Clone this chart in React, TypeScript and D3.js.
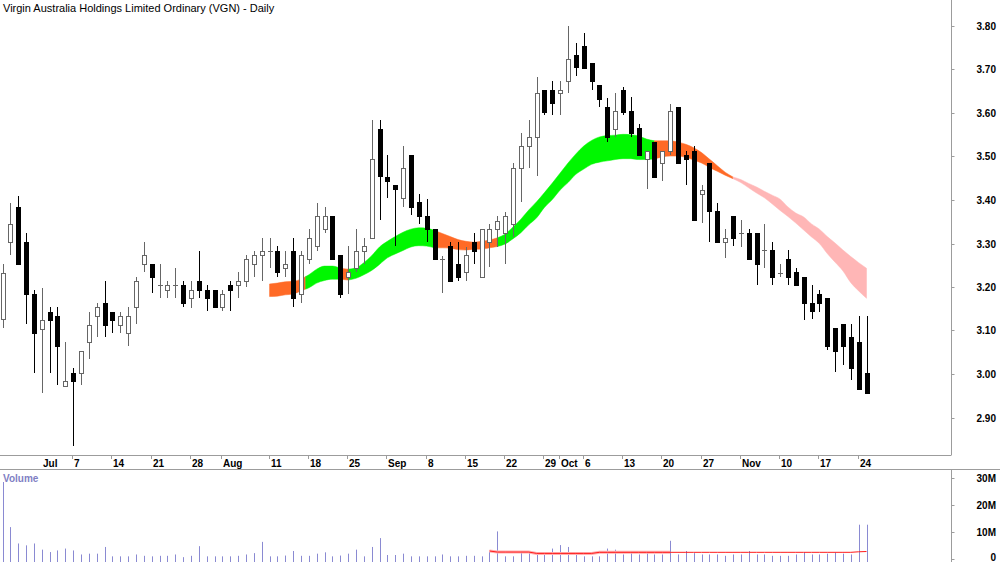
import * as d3 from 'd3';
import React, { useEffect, useRef } from 'react';

// daily candles, 24 Jun 2014 .. 25 Nov 2014
const opens = [
	3.126, 3.303, 3.383, 3.303, 3.184, 3.103, 3.143, 3.133, 2.973, 3.003,
	3.003, 3.073, 3.133, 3.163, 3.143, 3.113, 3.094, 3.154, 3.253, 3.253,
	3.204, 3.193, 3.204, 3.204, 3.174, 3.214, 3.194, 3.194, 3.154, 3.204,
	3.204, 3.214, 3.254, 3.274, 3.283, 3.283, 3.244, 3.283, 3.184, 3.264,
	3.294, 3.333, 3.363, 3.274, 3.224, 3.244, 3.283, 3.313, 3.564, 3.454,
	3.434, 3.404, 3.503, 3.395, 3.363, 3.333, 3.264, 3.294, 3.253, 3.234,
	3.303, 3.224, 3.304, 3.333, 3.323, 3.345, 3.473, 3.524, 3.544, 3.653,
	3.653, 3.645, 3.674, 3.734, 3.754, 3.714, 3.664, 3.614, 3.564, 3.654,
	3.605, 3.565, 3.494, 3.534, 3.484, 3.513, 3.614, 3.503, 3.513, 3.414,
	3.484, 3.374, 3.304, 3.363, 3.325, 3.325, 3.325, 3.284, 3.284, 3.233,
	3.264, 3.234, 3.224, 3.164, 3.184, 3.174, 3.105, 3.114, 3.084, 3.074,
	3.003,
];
const highs = [
	3.252, 3.394, 3.409, 3.323, 3.193, 3.198, 3.155, 3.155, 3.073, 3.013,
	3.054, 3.143, 3.163, 3.214, 3.143, 3.143, 3.153, 3.223, 3.303, 3.253,
	3.253, 3.214, 3.243, 3.214, 3.214, 3.283, 3.204, 3.194, 3.194, 3.214,
	3.234, 3.274, 3.283, 3.313, 3.313, 3.294, 3.283, 3.313, 3.283, 3.333,
	3.394, 3.383, 3.363, 3.274, 3.294, 3.333, 3.313, 3.584, 3.584, 3.503,
	3.434, 3.523, 3.503, 3.413, 3.403, 3.333, 3.271, 3.304, 3.303, 3.293,
	3.323, 3.333, 3.344, 3.363, 3.373, 3.484, 3.553, 3.584, 3.683, 3.653,
	3.674, 3.674, 3.800, 3.760, 3.785, 3.714, 3.664, 3.634, 3.645, 3.660,
	3.637, 3.575, 3.513, 3.534, 3.513, 3.620, 3.614, 3.513, 3.523, 3.434,
	3.484, 3.394, 3.333, 3.363, 3.354, 3.333, 3.325, 3.344, 3.304, 3.254,
	3.284, 3.243, 3.224, 3.204, 3.193, 3.174, 3.105, 3.114, 3.114, 3.133,
	3.133,
];
const lows = [
	3.105, 3.274, 3.253, 3.115, 3.003, 2.956, 3.003, 2.975, 2.973, 2.834,
	2.975, 3.034, 3.084, 3.084, 3.094, 3.094, 3.065, 3.114, 3.235, 3.186,
	3.174, 3.174, 3.174, 3.155, 3.151, 3.174, 3.144, 3.155, 3.144, 3.144,
	3.174, 3.201, 3.224, 3.214, 3.243, 3.224, 3.224, 3.155, 3.163, 3.254,
	3.283, 3.323, 3.264, 3.174, 3.184, 3.234, 3.254, 3.313, 3.354, 3.404,
	3.294, 3.385, 3.366, 3.345, 3.304, 3.264, 3.186, 3.214, 3.214, 3.214,
	3.254, 3.224, 3.245, 3.293, 3.254, 3.316, 3.395, 3.474, 3.455, 3.595,
	3.595, 3.595, 3.645, 3.685, 3.704, 3.654, 3.614, 3.534, 3.544, 3.595,
	3.544, 3.503, 3.425, 3.454, 3.444, 3.503, 3.484, 3.434, 3.354, 3.346,
	3.304, 3.304, 3.266, 3.294, 3.293, 3.264, 3.205, 3.244, 3.205, 3.224,
	3.204, 3.204, 3.124, 3.126, 3.143, 3.055, 3.005, 3.020, 2.986, 2.965,
	2.956,
];
const closes = [
	3.233, 3.344, 3.253, 3.184, 3.094, 3.123, 3.124, 3.064, 2.983, 2.984,
	3.054, 3.113, 3.153, 3.113, 3.124, 3.133, 3.133, 3.214, 3.273, 3.223,
	3.204, 3.204, 3.204, 3.164, 3.193, 3.194, 3.174, 3.155, 3.184, 3.194,
	3.214, 3.264, 3.274, 3.283, 3.283, 3.234, 3.253, 3.174, 3.274, 3.313,
	3.363, 3.363, 3.264, 3.184, 3.234, 3.283, 3.294, 3.494, 3.455, 3.444,
	3.425, 3.473, 3.385, 3.364, 3.333, 3.264, 3.264, 3.214, 3.224, 3.274,
	3.283, 3.333, 3.333, 3.352, 3.363, 3.473, 3.524, 3.544, 3.645, 3.603,
	3.624, 3.654, 3.724, 3.705, 3.704, 3.674, 3.633, 3.544, 3.605, 3.603,
	3.553, 3.503, 3.513, 3.454, 3.513, 3.605, 3.484, 3.494, 3.354, 3.424,
	3.374, 3.304, 3.313, 3.313, 3.325, 3.264, 3.254, 3.284, 3.224, 3.233,
	3.224, 3.204, 3.164, 3.144, 3.164, 3.064, 3.054, 3.064, 3.014, 2.965,
	2.956,
];
// millions of shares
const volumes = [
	28.5, 11.7, 5.6, 4.9, 5.6, 3.3, 2.4, 3.0, 3.7, 3.0,
	1.5, 1.8, 1.8, 4.3, 0.8, 0.8, 0.8, 1.5, 1.0, 0.8,
	1.0, 1.0, 1.5, 0.5, 1.0, 4.6, 0.8, 0.8, 0.8, 0.8,
	1.0, 1.5, 2.0, 6.2, 0.8, 0.8, 1.1, 2.8, 1.0, 1.0,
	1.8, 2.3, 0.8, 1.1, 1.8, 3.3, 0.8, 4.3, 7.6, 1.3,
	1.3, 1.8, 0.8, 0.8, 0.8, 0.8, 1.5, 0.8, 0.8, 1.0,
	1.0, 0.8, 2.4, 10.1, 0.8, 0.8, 2.8, 2.4, 1.8, 1.5,
	3.7, 5.0, 4.3, 1.8, 0.8, 0.8, 0.8, 3.7, 3.3, 1.5,
	2.4, 1.5, 2.4, 1.5, 1.5, 6.6, 1.5, 2.8, 2.0, 1.5,
	1.5, 1.5, 1.0, 1.5, 1.5, 2.8, 1.5, 1.5, 1.0, 1.0,
	1.0, 1.5, 2.3, 1.5, 1.5, 1.8, 2.3, 1.8, 1.5, 12.6,
	12.6,
];

// price band, from candle 34 onwards
const bandStart = 34;
const bandUpper = [
	3.207, 3.209, 3.212, 3.213, 3.218, 3.228, 3.241, 3.248, 3.248, 3.243,
	3.241, 3.244, 3.256, 3.272, 3.292, 3.305, 3.316, 3.326, 3.333, 3.336,
	3.335, 3.330, 3.323, 3.316, 3.309, 3.305, 3.303, 3.305, 3.308, 3.313,
	3.322, 3.338, 3.356, 3.377, 3.396, 3.417, 3.439, 3.462, 3.485, 3.506,
	3.524, 3.537, 3.545, 3.548, 3.549, 3.551, 3.550, 3.547, 3.540, 3.536,
	3.536, 3.536, 3.533, 3.528, 3.520, 3.509, 3.494, 3.479, 3.464, 3.453,
	3.447, 3.438, 3.430, 3.420, 3.411, 3.402, 3.384, 3.370, 3.361, 3.345,
	3.333, 3.316, 3.301, 3.285, 3.270, 3.256, 3.243,
];
const bandLower = [
	3.178, 3.179, 3.182, 3.184, 3.191, 3.198, 3.209, 3.215, 3.218, 3.218,
	3.216, 3.220, 3.228, 3.238, 3.252, 3.267, 3.276, 3.284, 3.292, 3.295,
	3.294, 3.290, 3.290, 3.289, 3.286, 3.285, 3.287, 3.287, 3.290, 3.293,
	3.299, 3.311, 3.325, 3.343, 3.359, 3.383, 3.401, 3.423, 3.440, 3.459,
	3.471, 3.482, 3.487, 3.490, 3.493, 3.495, 3.495, 3.493, 3.493, 3.494,
	3.499, 3.501, 3.501, 3.498, 3.492, 3.485, 3.475, 3.466, 3.457, 3.449,
	3.440, 3.428, 3.416, 3.405, 3.391, 3.376, 3.362, 3.347, 3.331, 3.315,
	3.300, 3.277, 3.257, 3.237, 3.210, 3.191, 3.174,
];
// [from candle, to candle, state]
const bandRuns: [number, number, string][] = [
	[34, 38.6, 'flat'], [38.6, 43, 'up'], [43, 44, 'flat'], [44, 55, 'up'],
	[55, 63, 'flat'], [63, 83, 'up'], [83, 93, 'flat'], [93, 110, 'down'],
];

// volume averages (millions) from candle 62
const volAvgStart = 62;
const volAvg = [
	2.8, 2.4, 2.4, 2.4, 2.4, 2.4, 1.9, 1.9, 1.9, 1.9,
	1.9, 1.9, 1.9, 1.9, 2.3, 2.3, 2.3, 2.3, 2.3, 2.3,
	2.3, 2.3, 2.3, 2.3, 2.3, 2.3, 2.3, 2.3, 2.3, 2.3,
	2.3, 2.3, 2.3, 2.3, 2.3, 2.3, 2.3, 2.3, 2.3, 2.3,
	2.3, 2.3, 2.3, 2.3, 2.3, 2.3, 2.3, 2.5, 2.6,
];
const volAvgSlowEnd = 85;

const priceTicks = [2.9, 3.0, 3.1, 3.2, 3.3, 3.4, 3.5, 3.6, 3.7, 3.8];
const volTicks = [0, 10, 20, 30];
const title = 'Virgin Australia Holdings Limited Ordinary (VGN) - Daily';

const stateColor: Record<string, string> = { up: '#00f700', flat: '#ff6a26', down: '#ffb6b6' };

const App = () => {
	const svgRef = useRef<SVGSVGElement>(null);

	useEffect(() => {
		const svg = d3.select(svgRef.current);
		svg.selectAll('*').remove();
		const font = 'Arial, "Liberation Sans", sans-serif';

		const axisX = 951.5;
		const dates = d3.timeDay
			.range(new Date(2014, 5, 24), new Date(2014, 10, 26))
			.filter(d => d.getDay() !== 0 && d.getDay() !== 6);

		const x = d3.scaleLinear().domain([0, dates.length - 1]).range([2.5, 866.5]);
		const y = d3.scaleLinear().domain([2.9, 3.8]).range([417.5, 26]);
		const yv = d3.scaleLinear().domain([0, 30]).range([558.5, 478]);

		const frame = svg.append('g').attr('stroke', '#9c9c9c').attr('stroke-width', 1);
		frame.append('line').attr('x1', axisX).attr('x2', axisX).attr('y1', 0).attr('y2', 455);
		frame.append('line').attr('x1', 0).attr('x2', axisX).attr('y1', 455.5).attr('y2', 455.5);
		frame.append('line').attr('x1', 0).attr('x2', 1000).attr('y1', 469.5).attr('y2', 469.5);
		frame.append('line').attr('x1', axisX).attr('x2', axisX).attr('y1', 469).attr('y2', 562);

		svg.append('text')
			.attr('x', 3).attr('y', 12)
			.style('font-family', font).style('font-size', '11px')
			.text(title);

		// band
		const band = svg.append('g');
		bandRuns.forEach(([from, to, state]) => {
			const pts: [number, number, number][] = [];
			const up = (i: number) => bandUpper[i - bandStart];
			const lo = (i: number) => bandLower[i - bandStart];
			const at = (t: number): [number, number, number] => {
				const i0 = Math.floor(t), f = t - i0;
				if (f === 0) return [t, up(i0), lo(i0)];
				return [t, up(i0) + (up(i0 + 1) - up(i0)) * f, lo(i0) + (lo(i0 + 1) - lo(i0)) * f];
			};
			pts.push(at(from));
			for (let i = Math.ceil(from); i <= Math.floor(to); i++) if (i > from) pts.push(at(i));
			if (to !== Math.floor(to)) pts.push(at(to));
			const area = d3.area<[number, number, number]>()
				.x(d => x(d[0]))
				.y0(d => y(d[2]))
				.y1(d => y(d[1]))
				.curve(d3.curveMonotoneX);
			band.append('path').attr('d', area(pts)).attr('fill', stateColor[state])
				.attr('stroke', stateColor[state]).attr('stroke-width', 0.5);
		});

		// candles
		const candles = svg.append('g');
		opens.forEach((o, i) => {
			const c = closes[i];
			const cx = Math.round(x(i)) + 0.5;
			const rising = c >= o;
			const col = rising ? '#666' : '#000';
			const top = Math.round(y(Math.max(o, c))) + 0.5;
			const bot = Math.round(y(Math.min(o, c))) + 0.5;
			candles.append('line')
				.attr('x1', cx).attr('x2', cx)
				.attr('y1', Math.round(y(highs[i]))).attr('y2', Math.round(y(lows[i])))
				.attr('stroke', col);
			if (bot - top < 1) {
				candles.append('line')
					.attr('x1', cx - 2.5).attr('x2', cx + 2.5)
					.attr('y1', top).attr('y2', top)
					.attr('stroke', col);
			} else {
				candles.append('rect')
					.attr('x', cx - 2).attr('width', 4)
					.attr('y', top).attr('height', bot - top)
					.attr('fill', rising ? '#fff' : '#000')
					.attr('stroke', col);
			}
		});

		// price axis
		const pa = svg.append('g');
		priceTicks.forEach(p => {
			const py = Math.round(y(p)) + 0.5;
			pa.append('line').attr('x1', axisX).attr('x2', axisX + 3).attr('y1', py).attr('y2', py).attr('stroke', '#9c9c9c');
			pa.append('text')
				.attr('x', 996).attr('y', py + 3.5)
				.attr('text-anchor', 'end')
				.style('font-family', font).style('font-size', '10px').style('font-weight', 'bold')
				.text(d3.format('.2f')(p));
		});

		// date axis: month starts and Mondays, skipping a Monday next to a month start
		const da = svg.append('g');
		const monthFmt = d3.timeFormat('%b');
		const monthStarts = dates
			.map((d, i) => (i > 0 && dates[i - 1].getMonth() !== d.getMonth() ? i : -1))
			.filter(i => i >= 0);
		dates.forEach((d, i) => {
			const newMonth = monthStarts.includes(i);
			const monday = d.getDay() === 1;
			if (!newMonth && !monday) return;
			if (!newMonth && monthStarts.some(m => Math.abs(m - i) <= 1)) return;
			const tx = Math.round(x(i)) - 0.5;
			if (d.getMonth() !== 6 || d.getDate() !== 1) {
				da.append('line').attr('x1', tx).attr('x2', tx).attr('y1', 456).attr('y2', 459).attr('stroke', '#9c9c9c');
			}
			da.append('text')
				.attr('x', tx + 1.5).attr('y', 467)
				.style('font-family', font).style('font-size', '10px').style('font-weight', 'bold')
				.text(newMonth ? monthFmt(d) : String(d.getDate()));
		});

		// volume
		const vol = svg.append('g');
		vol.append('text')
			.attr('x', 3).attr('y', 482)
			.attr('fill', '#7f7fc4')
			.style('font-family', font).style('font-size', '10px').style('font-weight', 'bold')
			.text('Volume');
		volumes.forEach((v, i) => {
			const vx = Math.round(x(i)) + 0.5;
			vol.append('line').attr('x1', vx).attr('x2', vx)
				.attr('y1', yv(v)).attr('y2', 562)
				.attr('stroke', '#8a8ad2');
		});
		const avgLine = d3.line<number>()
			.x((_, k) => x(k + volAvgStart))
			.y(v => yv(v));
		vol.append('path')
			.attr('d', avgLine(volAvg.slice(0, volAvgSlowEnd - volAvgStart + 1)))
			.attr('fill', 'none').attr('stroke', '#ffb0b0').attr('stroke-width', 3);
		vol.append('path')
			.attr('d', avgLine(volAvg))
			.attr('fill', 'none').attr('stroke', '#ff1a1a').attr('stroke-width', 1);

		volTicks.forEach(v => {
			const vy = Math.round(yv(v)) + 0.5;
			vol.append('line').attr('x1', axisX).attr('x2', axisX + 3).attr('y1', vy).attr('y2', vy).attr('stroke', '#9c9c9c');
			vol.append('text')
				.attr('x', 996).attr('y', Math.min(vy + 3.5, 561))
				.attr('text-anchor', 'end')
				.style('font-family', font).style('font-size', '10px').style('font-weight', 'bold')
				.text(v === 0 ? '0' : `${v}M`);
		});
	}, []);

	return (
		<svg
			ref={svgRef}
			width={1000}
			height={562}
			style={{ position: 'fixed', left: 0, top: 0, background: '#fff' }}
		/>
	);
};

export default App;
